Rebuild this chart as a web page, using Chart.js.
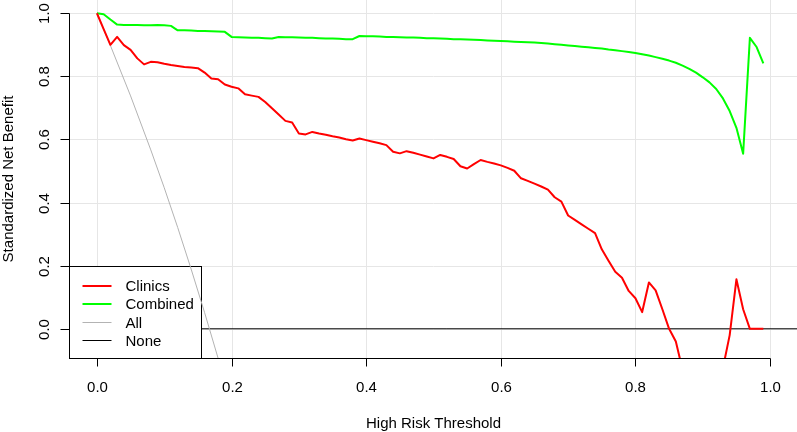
<!DOCTYPE html>
<html>
<head>
<meta charset="utf-8">
<script src="https://cdn.jsdelivr.net/npm/chart.js@4.4.1/dist/chart.umd.min.js"></script>
<style>
  html, body { margin: 0; padding: 0; background: #fff; }
  #wrap { width: 797px; height: 432px; }
</style>
</head>
<body>
<div id="wrap"><canvas id="dca"></canvas></div>
<script>
// threshold probabilities (x)
const thresholds = [
  0.00, 0.01, 0.02, 0.03, 0.04, 0.05, 0.06, 0.07, 0.08, 0.09,
  0.10, 0.11, 0.12, 0.13, 0.14, 0.15, 0.16, 0.17, 0.18, 0.19,
  0.20, 0.21, 0.22, 0.23, 0.24, 0.25, 0.26, 0.27, 0.28, 0.29,
  0.30, 0.31, 0.32, 0.33, 0.34, 0.35, 0.36, 0.37, 0.38, 0.39,
  0.40, 0.41, 0.42, 0.43, 0.44, 0.45, 0.46, 0.47, 0.48, 0.49,
  0.50, 0.51, 0.52, 0.53, 0.54, 0.55, 0.56, 0.57, 0.58, 0.59,
  0.60, 0.61, 0.62, 0.63, 0.64, 0.65, 0.66, 0.67, 0.68, 0.69,
  0.70, 0.71, 0.72, 0.73, 0.74, 0.75, 0.76, 0.77, 0.78, 0.79,
  0.80, 0.81, 0.82, 0.83, 0.84, 0.85, 0.86, 0.87, 0.88, 0.89,
  0.90, 0.91, 0.92, 0.93, 0.94, 0.95, 0.96, 0.97, 0.98, 0.99
];

const clinics = [
  1.000, 0.950, 0.900, 0.925, 0.899, 0.884, 0.857, 0.838, 0.846, 0.845,
  0.840, 0.836, 0.833, 0.830, 0.828, 0.826, 0.812, 0.793, 0.791, 0.774,
  0.767, 0.762, 0.743, 0.739, 0.735, 0.719, 0.699, 0.679, 0.659, 0.654,
  0.619, 0.616, 0.624, 0.619, 0.615, 0.610, 0.606, 0.601, 0.597, 0.603,
  0.598, 0.593, 0.588, 0.582, 0.561, 0.556, 0.563, 0.558, 0.552, 0.546,
  0.540, 0.551, 0.545, 0.538, 0.515, 0.508, 0.522, 0.535, 0.529, 0.524,
  0.518, 0.510, 0.501, 0.477, 0.469, 0.460, 0.451, 0.441, 0.417, 0.403,
  0.359, 0.345, 0.331, 0.317, 0.303, 0.252, 0.216, 0.181, 0.162, 0.120,
  0.097, 0.053, 0.147, 0.122, 0.062, 0.000, -0.040, -0.130, -0.210, -0.260,
  -0.300, -0.280, -0.220, -0.124, -0.020, 0.157, 0.062, 0.000, 0.000, 0.000
];

const combined = [
  1.000, 0.997, 0.980, 0.964, 0.963, 0.963, 0.963, 0.962, 0.962, 0.963,
  0.962, 0.960, 0.946, 0.946, 0.945, 0.944, 0.944, 0.943, 0.942, 0.941,
  0.925, 0.924, 0.923, 0.922, 0.922, 0.921, 0.920, 0.925, 0.924, 0.924,
  0.923, 0.922, 0.922, 0.921, 0.920, 0.920, 0.919, 0.918, 0.918, 0.928,
  0.927, 0.927, 0.926, 0.925, 0.925, 0.924, 0.923, 0.923, 0.922, 0.921,
  0.921, 0.920, 0.919, 0.918, 0.918, 0.917, 0.916, 0.915, 0.914, 0.913,
  0.912, 0.911, 0.910, 0.909, 0.908, 0.907, 0.906, 0.904, 0.902, 0.900,
  0.898, 0.896, 0.894, 0.892, 0.890, 0.888, 0.885, 0.883, 0.880, 0.877,
  0.874, 0.870, 0.866, 0.861, 0.856, 0.850, 0.843, 0.834, 0.824, 0.812,
  0.797, 0.781, 0.760, 0.730, 0.690, 0.637, 0.555, 0.922, 0.893, 0.841
];

// treat-all reference curve
const allX = [0.00, 0.02, 0.05, 0.08, 0.10, 0.12, 0.14, 0.16, 0.18, 0.20];
const allY = [1.000, 0.898, 0.738, 0.567, 0.447, 0.321, 0.189, 0.051, -0.093, -0.245];

// treat-none reference line
const noneX = [0, 1.04];
const noneY = [0, 0];

const xTicks = [0, 0.2, 0.4, 0.6, 0.8, 1.0];
const yTicks = [0, 0.2, 0.4, 0.6, 0.8, 1.0];
const xTitle = 'High Risk Threshold';
const yTitle = 'Standardized Net Benefit';

const FONT = '15px "Liberation Sans", Arial, sans-serif';

function toPoints(xs, ys) {
    return xs.map((v, i) => ({ x: v, y: ys[i] }));
}

function seg(ctx, x1, y1, x2, y2) {
    ctx.beginPath();
    ctx.moveTo(x1, y1);
    ctx.lineTo(x2, y2);
    ctx.stroke();
}

// R-style base graphics: grid, axes, titles, legend box
const rPlot = {
    id: 'rPlot',
    beforeDatasetsDraw(chart) {
        const { ctx, chartArea: a, scales: { x, y } } = chart;
        ctx.save();
        ctx.lineWidth = 1;
        ctx.strokeStyle = '#e6e6e6';
        xTicks.forEach(v => {
            const px = Math.round(x.getPixelForValue(v)) + 0.5;
            seg(ctx, px, a.top, px, a.bottom);
        });
        yTicks.forEach(v => {
            const py = Math.round(y.getPixelForValue(v)) + 0.5;
            seg(ctx, a.left, py, a.right, py);
        });

        ctx.strokeStyle = '#000';
        ctx.fillStyle = '#000';
        ctx.font = FONT;

        // x axis
        const xb = Math.round(a.bottom) + 0.5;
        const x0 = Math.round(x.getPixelForValue(xTicks[0])) + 0.5;
        const x1 = Math.round(x.getPixelForValue(xTicks[xTicks.length - 1])) + 0.5;
        seg(ctx, x0, xb, x1, xb);
        ctx.textAlign = 'center';
        ctx.textBaseline = 'alphabetic';
        xTicks.forEach(v => {
            const px = Math.round(x.getPixelForValue(v)) + 0.5;
            seg(ctx, px, xb, px, xb + 8);
            ctx.fillText(v.toFixed(1), px, 392);
        });
        ctx.fillText(xTitle, (a.left + a.right) / 2, 427.5);

        // y axis
        const yl = Math.round(a.left) - 0.5;
        const y0 = Math.round(y.getPixelForValue(yTicks[0])) + 0.5;
        const y1 = Math.round(y.getPixelForValue(yTicks[yTicks.length - 1])) + 0.5;
        seg(ctx, yl, y0, yl, y1);
        yTicks.forEach(v => {
            const py = Math.round(y.getPixelForValue(v)) + 0.5;
            seg(ctx, yl, py, yl - 9, py);
            ctx.save();
            ctx.translate(48.7, py);
            ctx.rotate(-Math.PI / 2);
            ctx.fillText(v.toFixed(1), 0, 0);
            ctx.restore();
        });
        ctx.save();
        ctx.translate(13, (a.top + a.bottom) / 2);
        ctx.rotate(-Math.PI / 2);
        ctx.fillText(yTitle, 0, 0);
        ctx.restore();
        ctx.restore();
    },
    // legend sits above the None line but under the All curve
    beforeDatasetDraw(chart, args) {
        if (args.index !== 2) return;
        const { ctx, chartArea: a } = chart;
        const left = Math.round(a.left) - 0.5;
        const bottom = Math.round(a.bottom) + 0.5;
        const w = 132, h = 92;
        const top = bottom - h;
        ctx.save();
        ctx.fillStyle = '#fff';
        ctx.fillRect(left, top, w, h);
        ctx.strokeStyle = '#000';
        ctx.lineWidth = 1;
        ctx.strokeRect(left, top, w, h);
        ctx.font = FONT;
        ctx.textAlign = 'left';
        ctx.textBaseline = 'alphabetic';
        chart.data.datasets.forEach((ds, i) => {
            const cy = top + 19 + i * 18.3;
            ctx.strokeStyle = ds.borderColor;
            ctx.lineWidth = ds.borderWidth;
            seg(ctx, left + 13, Math.round(cy) + (ds.borderWidth === 1 ? 0.5 : 0), left + 42, Math.round(cy) + (ds.borderWidth === 1 ? 0.5 : 0));
            ctx.fillStyle = '#000';
            ctx.fillText(ds.label, left + 56, cy + 5.4);
        });
        ctx.restore();
    }
};

new Chart(document.getElementById('dca'), {
    type: 'line',
    data: {
        datasets: [
            { label: 'Clinics', data: toPoints(thresholds, clinics), borderColor: '#ff0000', borderWidth: 2, order: 1, clip: 0 },
            { label: 'Combined', data: toPoints(thresholds, combined), borderColor: '#00ff00', borderWidth: 2, order: 2, clip: 0 },
            { label: 'All', data: toPoints(allX, allY), borderColor: '#b3b3b3', borderWidth: 1, order: 3, clip: 0 },
            { label: 'None', data: toPoints(noneX, noneY), borderColor: '#000000', borderWidth: 1, order: 4, clip: 0 }
        ]
    },
    options: {
        responsive: true,
        maintainAspectRatio: false,
        animation: false,
        events: [],
        layout: { padding: { left: 70, right: 0, top: 0, bottom: 74 } },
        elements: {
            point: { radius: 0 },
            line: { tension: 0, fill: false, borderJoinStyle: 'round' }
        },
        scales: {
            x: { type: 'linear', min: -0.04, max: 1.04, display: false },
            y: { type: 'linear', min: -0.0925, max: 1.042, display: false }
        },
        plugins: {
            legend: { display: false },
            tooltip: { enabled: false }
        }
    },
    plugins: [rPlot]
});
</script>
</body>
</html>
